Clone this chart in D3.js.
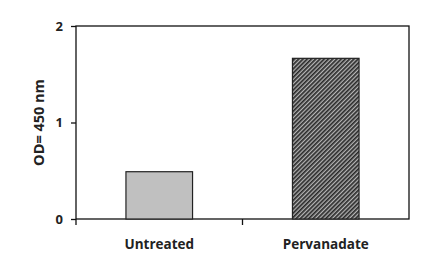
<!DOCTYPE html>
<html>
<head>
<meta charset="utf-8">
<script src="https://cdn.jsdelivr.net/npm/d3@7"></script>
<style>
  body { margin: 0; background: #fff; }
  text { font-family: "Open Sans", "DejaVu Sans", sans-serif; font-weight: bold; fill: #222; }
</style>
</head>
<body>
<div id="chart"></div>
<script>
var categories = ["Untreated", "Pervanadate"];
var values = [0.49, 1.665];
var yTicks = [0, 1, 2];

var margin = {top: 26, right: 24, bottom: 56, left: 76};
var width = 433 - margin.left - margin.right;
var height = 275 - margin.top - margin.bottom;

var svg = d3.select("#chart").append("svg")
    .attr("width", 433)
    .attr("height", 275);

var defs = svg.append("defs");
var pat = defs.append("pattern")
    .attr("id", "hatch")
    .attr("patternUnits", "userSpaceOnUse")
    .attr("width", 3)
    .attr("height", 3)
    .attr("patternTransform", "rotate(45)");
pat.append("rect").attr("width", 3).attr("height", 3).attr("fill", "#b5b5b5");
pat.append("rect").attr("width", 1.7).attr("height", 3).attr("fill", "#2a2a2a");

var g = svg.append("g")
    .attr("transform", "translate(" + margin.left + "," + margin.top + ")");

var x = d3.scaleBand()
    .domain(categories)
    .range([0, width])
    .paddingInner(0.6)
    .paddingOuter(0.3);

var y = d3.scaleLinear()
    .domain([0, 2])
    .range([height, 0]);

// plot frame
g.append("rect")
    .attr("width", width)
    .attr("height", height)
    .attr("fill", "none")
    .attr("stroke", "#111")
    .attr("stroke-width", 1.3);

g.selectAll(".bar")
    .data(categories)
    .enter().append("rect")
    .attr("class", "bar")
    .attr("x", d => x(d))
    .attr("y", (d, i) => y(values[i]))
    .attr("width", x.bandwidth())
    .attr("height", (d, i) => height - y(values[i]))
    .attr("fill", (d, i) => i == 0 ? "#c0c0c0" : "url(#hatch)")
    .attr("stroke", "#222")
    .attr("stroke-width", 1.2);

var yAxis = d3.axisLeft(y).tickValues(yTicks).tickSize(5).tickPadding(8).tickFormat(d3.format("d"));
var yg = g.append("g").call(yAxis);
yg.select(".domain").remove();
yg.selectAll("line").attr("stroke", "#111").attr("stroke-width", 1.3);
yg.selectAll("text").style("font-size", "13px").attr("fill", "#222");

// x ticks at category boundaries
var bounds = [0, width / 2];
g.selectAll(".xtick")
    .data(bounds)
    .enter().append("line")
    .attr("x1", d => d).attr("x2", d => d)
    .attr("y1", height).attr("y2", height + 6)
    .attr("stroke", "#111")
    .attr("stroke-width", 1.3);

g.selectAll(".xlabel")
    .data(categories)
    .enter().append("text")
    .attr("x", d => x(d) + x.bandwidth() / 2)
    .attr("y", height + 30)
    .attr("text-anchor", "middle")
    .style("font-size", "13.5px")
    .text(d => d);

svg.append("text")
    .attr("transform", "translate(44," + (margin.top + height / 2) + ") rotate(-90)")
    .attr("text-anchor", "middle")
    .style("font-size", "14.5px")
    .text("OD= 450 nm");
</script>
</body>
</html>
